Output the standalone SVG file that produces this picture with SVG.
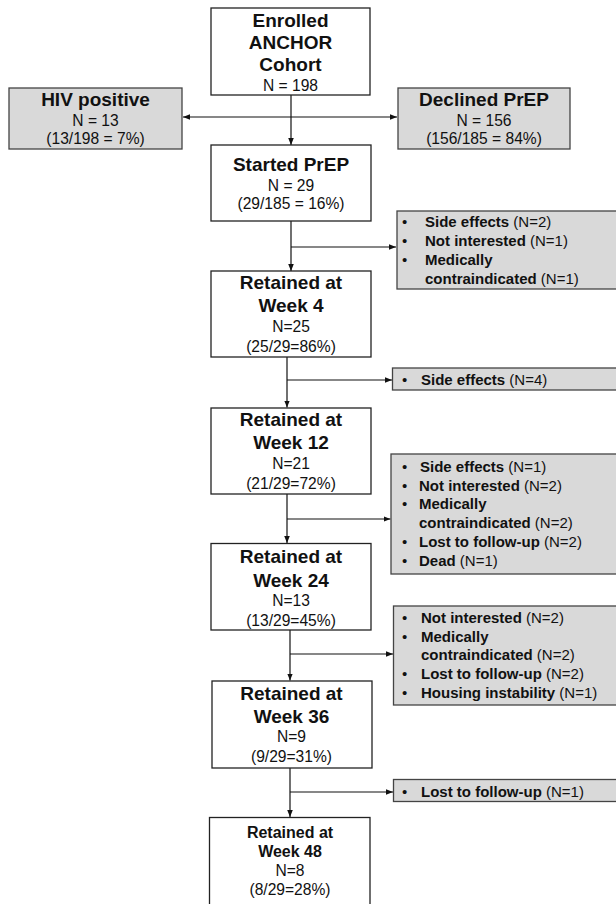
<svg xmlns="http://www.w3.org/2000/svg" width="616" height="904" viewBox="0 0 616 904">
<style>
.w{fill:#fff;stroke:#222;stroke-width:1.3}
.g{fill:#d9d9d9;stroke:#444;stroke-width:1.3}
text{font-family:"Liberation Sans",Arial,sans-serif;fill:#111}
.h{font-weight:bold;font-size:19px;text-anchor:middle}
.h2{font-weight:bold;font-size:16px;text-anchor:middle}
.n{font-size:15.6px;text-anchor:middle}
.l{font-size:15px}
.b{font-weight:bold}
.c{fill:none;stroke:#111;stroke-width:1.2}
</style>
<defs>
<marker id="a" viewBox="0 0 10 10" refX="10" refY="5" markerWidth="7" markerHeight="7" orient="auto-start-reverse" markerUnits="userSpaceOnUse"><path d="M0,1 L10,5 L0,9 Z" fill="#111"/></marker>
</defs>
<rect width="616" height="904" fill="#fff"/>
<g id="connectors">
<line class="c" x1="291" y1="95" x2="291" y2="145" marker-end="url(#a)"/>
<line class="c" x1="183" y1="117" x2="397" y2="117" marker-start="url(#a)" marker-end="url(#a)"/>
<line class="c" x1="291" y1="221" x2="291" y2="271" marker-end="url(#a)"/>
<line class="c" x1="291" y1="247" x2="396" y2="247" marker-end="url(#a)"/>
<line class="c" x1="287" y1="357" x2="287" y2="407.5" marker-end="url(#a)"/>
<line class="c" x1="287" y1="380" x2="392" y2="380" marker-end="url(#a)"/>
<line class="c" x1="287" y1="494" x2="287" y2="543" marker-end="url(#a)"/>
<line class="c" x1="287" y1="519" x2="390.5" y2="519" marker-end="url(#a)"/>
<line class="c" x1="290" y1="630" x2="290" y2="680.5" marker-end="url(#a)"/>
<line class="c" x1="290" y1="654" x2="393" y2="654" marker-end="url(#a)"/>
<line class="c" x1="290" y1="768" x2="290" y2="817" marker-end="url(#a)"/>
<line class="c" x1="290" y1="792" x2="393" y2="792" marker-end="url(#a)"/>
</g>
<g id="enrolled">
<rect class="w" x="211" y="8" width="159" height="87"/>
<text class="h" x="290.5" y="27">Enrolled</text>
<text class="h" x="290.5" y="49">ANCHOR</text>
<text class="h" x="290.5" y="71">Cohort</text>
<text class="n" x="290.5" y="91">N = 198</text>
</g>
<g id="hiv">
<rect class="g" x="9" y="88" width="173" height="61"/>
<text class="h" x="95.5" y="106">HIV positive</text>
<text class="n" x="95.5" y="125.5">N = 13</text>
<text class="n" x="95.5" y="143.5">(13/198 = 7%)</text>
</g>
<g id="declined">
<rect class="g" x="398" y="88" width="172" height="61"/>
<text class="h" x="484" y="106">Declined PrEP</text>
<text class="n" x="484" y="125.5">N = 156</text>
<text class="n" x="484" y="143.5">(156/185 = 84%)</text>
</g>
<g id="started">
<rect class="w" x="211" y="145" width="160" height="76"/>
<text class="h" x="291" y="170.5">Started PrEP</text>
<text class="n" x="291" y="190.5">N = 29</text>
<text class="n" x="291" y="209">(29/185 = 16%)</text>
</g>
<g id="reasons1">
<rect class="g" x="397" y="211" width="225" height="78"/>
<text class="l" x="402" y="227.3">•</text><text class="l" x="425" y="227.3"><tspan class="b">Side effects</tspan> (N=2)</text>
<text class="l" x="402" y="246">•</text><text class="l" x="425" y="246"><tspan class="b">Not interested</tspan> (N=1)</text>
<text class="l" x="402" y="265">•</text><text class="l" x="425" y="265"><tspan class="b">Medically</tspan></text>
<text class="l" x="425" y="283.5"><tspan class="b">contraindicated</tspan> (N=1)</text>
</g>
<g id="week4">
<rect class="w" x="211" y="271" width="160" height="86"/>
<text class="h" x="291" y="288.5">Retained at</text>
<text class="h" x="291" y="311.5">Week 4</text>
<text class="n" x="291" y="331.5">N=25</text>
<text class="n" x="291" y="351.5">(25/29=86%)</text>
</g>
<g id="reasons2">
<rect class="g" x="392.5" y="368" width="230" height="22"/>
<text class="l" x="402" y="385">•</text><text class="l" x="421" y="385"><tspan class="b">Side effects</tspan> (N=4)</text>
</g>
<g id="week12">
<rect class="w" x="211" y="408" width="160" height="86"/>
<text class="h" x="291" y="426">Retained at</text>
<text class="h" x="291" y="449.3">Week 12</text>
<text class="n" x="291" y="468.5">N=21</text>
<text class="n" x="291" y="489.3">(21/29=72%)</text>
</g>
<g id="reasons3">
<rect class="g" x="391" y="454" width="231" height="120"/>
<text class="l" x="402" y="471.7">•</text><text class="l" x="420" y="471.7"><tspan class="b">Side effects</tspan> (N=1)</text>
<text class="l" x="402" y="490.7">•</text><text class="l" x="419" y="490.7"><tspan class="b">Not interested</tspan> (N=2)</text>
<text class="l" x="402" y="509.3">•</text><text class="l" x="419" y="509.3"><tspan class="b">Medically</tspan></text>
<text class="l" x="419" y="528"><tspan class="b">contraindicated</tspan> (N=2)</text>
<text class="l" x="402" y="547.3">•</text><text class="l" x="419" y="547.3"><tspan class="b">Lost to follow-up</tspan> (N=2)</text>
<text class="l" x="402" y="565.7">•</text><text class="l" x="419" y="565.7"><tspan class="b">Dead</tspan> (N=1)</text>
</g>
<g id="week24">
<rect class="w" x="211" y="543.5" width="160" height="86.5"/>
<text class="h" x="291" y="563.3">Retained at</text>
<text class="h" x="291" y="586.7">Week 24</text>
<text class="n" x="291" y="606">N=13</text>
<text class="n" x="291" y="626">(13/29=45%)</text>
</g>
<g id="reasons4">
<rect class="g" x="393.5" y="606" width="229" height="99"/>
<text class="l" x="402" y="623.3">•</text><text class="l" x="421" y="623.3"><tspan class="b">Not interested</tspan> (N=2)</text>
<text class="l" x="402" y="641.7">•</text><text class="l" x="421" y="641.7"><tspan class="b">Medically</tspan></text>
<text class="l" x="421" y="660"><tspan class="b">contraindicated</tspan> (N=2)</text>
<text class="l" x="402" y="679.3">•</text><text class="l" x="421" y="679.3"><tspan class="b">Lost to follow-up</tspan> (N=2)</text>
<text class="l" x="402" y="698.3">•</text><text class="l" x="421" y="698.3"><tspan class="b">Housing instability</tspan> (N=1)</text>
</g>
<g id="week36">
<rect class="w" x="212" y="681" width="160" height="87"/>
<text class="h" x="291.5" y="700">Retained at</text>
<text class="h" x="291.5" y="722.7">Week 36</text>
<text class="n" x="291.5" y="741.7">N=9</text>
<text class="n" x="291.5" y="762.3">(9/29=31%)</text>
</g>
<g id="reasons5">
<rect class="g" x="393.5" y="779.5" width="229" height="22"/>
<text class="l" x="402" y="797">•</text><text class="l" x="421" y="797"><tspan class="b">Lost to follow-up</tspan> (N=1)</text>
</g>
<g id="week48">
<rect class="w" x="209.5" y="817.5" width="160.5" height="100"/>
<text class="h2" x="290" y="837.7">Retained at</text>
<text class="h2" x="290" y="856.7">Week 48</text>
<text class="n" x="290" y="876">N=8</text>
<text class="n" x="290" y="895">(8/29=28%)</text>
</g>
</svg>
